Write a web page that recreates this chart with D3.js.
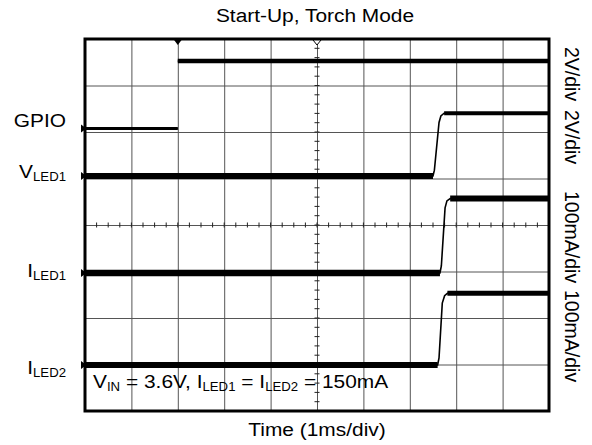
<!DOCTYPE html>
<html><head><meta charset="utf-8">
<script src="https://cdn.jsdelivr.net/npm/d3@7"></script>
<style>
body{margin:0;background:#fff}
svg{display:block}
text{font-family:"Liberation Sans",Arial,Helvetica,sans-serif;fill:#000}
</style>
</head><body><svg id="c" width="592" height="445"></svg>
<script>
// ---------- data ----------
const titleText = "Start-Up, Torch Mode";
const xLabelText = "Time (1ms/div)";
const timeDomainMs = [0, 10];           // 1 ms/div, 10 divisions
const divDomain = [-4, 4];              // 8 vertical divisions
const labelMain = ["GPIO", "V", "I", "I"];
const labelSub  = ["", "LED1", "LED1", "LED2"];
const scaleLabels = ["2V/div", "2V/div", "100mA/div", "100mA/div"];
const unitsPerDiv = [2, 2, 100, 100];

const gpioTime  = [0, 2.0, 2.0, 2.0, 10];
const gpioVolts = [0, 0, NaN, 2.9, 2.9];

const vledTime  = [0, 7.50, 7.53, 7.63, 7.67, 7.74, 10];
const vledVolts = [0, 0, 0.25, 2.3, 2.58, 2.7, 2.7];

const iled1Time = [0, 7.65, 7.68, 7.76, 7.80, 7.87, 10];
const iled1mA   = [0, 0, 15, 140, 155, 160, 160];

const iled2Time = [0, 7.60, 7.63, 7.70, 7.75, 7.81, 10];
const iled2mA   = [0, 0, 15, 133, 149, 154, 154];

const noteParts = [["V",0],["IN",1],[" = 3.6V, ",0],["I",0],["LED1",1],[" = ",0],["I",0],["LED2",1],[" = 150mA",0]];

// ---------- layout / style ----------
const P = {l: 85, r: 549, t: 39, b: 411};
const groundDiv = [2.075, 1.054, -1.032, -3.01];
const levelWidth = [[3, 4.5], [6, 4], [6.5, 6], [6, 5]];
const labelBaseline = [127, 178, 277, 374];
const scaleLabelStart = [47, 110, 191, 290];
const FS = 19, SFS = 12, STRETCH = 1.1, RFS = 19.5, SUBDY = 2.5;

const svg = d3.select("#c");
const x = d3.scaleLinear().domain(timeDomainMs).range([P.l, P.r]);
const yd = d3.scaleLinear().domain(divDomain).range([P.b, P.t]);

// grid via axes
const gx = svg.append("g").attr("transform", `translate(0,${P.b})`)
  .call(d3.axisBottom(x).tickValues(d3.range(1, 10)).tickSize(-(P.b - P.t)).tickFormat(""));
const gy = svg.append("g").attr("transform", `translate(${P.l},0)`)
  .call(d3.axisLeft(yd).tickValues(d3.range(-3, 4)).tickSize(-(P.r - P.l)).tickFormat(""));
[gx, gy].forEach(g => {
  g.select(".domain").remove();
  g.selectAll("line").attr("stroke", "#555").attr("stroke-width", 1);
});

// center minor ticks
const cx = x(5), cy = yd(0);
svg.append("g").selectAll("line").data(d3.range(0, 10.001, 0.25)).join("line")
  .attr("x1", d => x(d)).attr("x2", d => x(d)).attr("y1", cy - 2.5).attr("y2", cy + 2.5)
  .attr("stroke", "#222").attr("stroke-width", 1);
svg.append("g").selectAll("line").data(d3.range(-4, 4.001, 0.2)).join("line")
  .attr("y1", d => yd(d)).attr("y2", d => yd(d)).attr("x1", cx - 2.5).attr("x2", cx + 2.5)
  .attr("stroke", "#222").attr("stroke-width", 1);

// traces
const chans = [[gpioTime, gpioVolts], [vledTime, vledVolts], [iled1Time, iled1mA], [iled2Time, iled2mA]];
chans.forEach(([T, V], c) => {
  const pts = T.map((t, i) => [t, V[i]]);
  const yy = v => yd(groundDiv[c] + v / unitsPerDiv[c]);
  const line = d3.line().defined(d => !isNaN(d[1])).x(d => x(d[0])).y(d => yy(d[1]));
  svg.append("path").attr("d", line(pts)).attr("fill", "none").attr("stroke", "#000").attr("stroke-width", 1.6);
  const flats = [];
  for (let i = 0; i < pts.length - 1; i++) {
    if (!isNaN(pts[i][1]) && pts[i][1] === pts[i + 1][1] && pts[i + 1][0] > pts[i][0]) flats.push([pts[i], pts[i + 1]]);
  }
  flats.forEach((seg, k) => {
    const w = k === 0 ? levelWidth[c][0] : levelWidth[c][1];
    svg.append("line").attr("x1", x(seg[0][0])).attr("x2", x(seg[1][0]))
      .attr("y1", yy(seg[0][1])).attr("y2", yy(seg[1][1]))
      .attr("stroke", "#000").attr("stroke-width", w);
  });
  const gy0 = yy(0);
  svg.append("path").attr("d", `M${P.l - 4},${gy0 - 4}L${P.l + 1.5},${gy0}L${P.l - 4},${gy0 + 4}Z`).attr("fill", "#000");
});

// frame
svg.append("rect").attr("x", P.l).attr("y", P.t).attr("width", P.r - P.l).attr("height", P.b - P.t)
  .attr("fill", "none").attr("stroke", "#000").attr("stroke-width", 3);

// top markers
const tx = x(gpioTime[2]);
svg.append("path").attr("d", `M${tx - 4.5},${P.t}L${tx + 4.5},${P.t}L${tx},${P.t + 6}Z`).attr("fill", "#000");
svg.append("path").attr("d", `M${cx - 4},${P.t + 1}L${cx + 4},${P.t + 1}L${cx},${P.t + 6}Z`)
  .attr("fill", "#fff").attr("stroke", "#000").attr("stroke-width", 1);

// texts
function htext(xp, yp, anchor, parts) {
  const t = svg.append("text").attr("transform", `translate(${xp},${yp}) scale(${STRETCH},1)`)
    .attr("text-anchor", anchor).attr("font-size", FS);
  let prevSub = false;
  parts.forEach(([s, sub]) => {
    if (!s) return;
    t.append("tspan").text(s).attr("font-size", sub ? SFS : FS)
      .attr("dy", sub && !prevSub ? SUBDY : (!sub && prevSub ? -SUBDY : 0));
    prevSub = !!sub;
  });
  return t;
}
htext(315, 22, "middle", [[titleText, 0]]);
htext(x(5), 436, "middle", [[xLabelText, 0]]);
labelMain.forEach((m, i) => htext(66, labelBaseline[i], "end", [[m, 0], [labelSub[i], 1]]));
htext(93, 388, "start", noteParts);

scaleLabels.forEach((s, i) => {
  svg.append("text").attr("transform", `translate(565,${scaleLabelStart[i]}) rotate(90)`)
    .attr("font-size", RFS).text(s);
});
</script>
</body></html>
